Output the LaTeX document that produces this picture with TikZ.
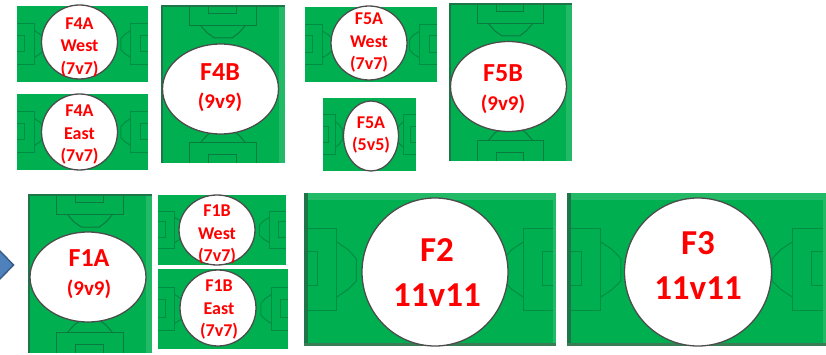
\documentclass[tikz,border=0pt]{standalone}
\usepackage{fontspec}
\setmainfont{Carlito}
\usepackage{tikz}
\usetikzlibrary{positioning,shapes.geometric}
\definecolor{pitchgreen}{HTML}{00AF50}
\definecolor{pitchline}{HTML}{008C42}
\definecolor{pitchdeep}{HTML}{0B7A3F}
\definecolor{pitchdark}{HTML}{1E7548}
\definecolor{pitchlight}{HTML}{22BA66}
\definecolor{pitchbase}{HTML}{3A7D55}
\definecolor{chevronblue}{HTML}{4F81BD}
\definecolor{chevronedge}{HTML}{385D8A}
\tikzset{
  markline/.style={draw=pitchline, line width=1pt},
  ring/.style={ellipse, draw=black!70, line width=1.3pt, fill=white, inner sep=0pt},
  smalltext/.style={text=red, align=center, font=\bfseries\fontsize{18}{22.5}\selectfont, inner sep=0pt},
  midtext/.style={text=red, align=center, font=\bfseries\fontsize{21}{28.5}\selectfont, inner sep=0pt},
  bigtext/.style={text=red, align=center, font=\bfseries\fontsize{35}{45}\selectfont, inner sep=0pt},
}
\newcommand{\headline}[1]{{\fontsize{26}{26}\selectfont #1}}
% pitch markings in unit coordinates, goal ends at x=0 and x=1
\newcommand{\markings}{
  \draw[markline] (0,0.23) -- (0.13,0.23) -- (0.13,0.77) -- (0,0.77);
  \draw[markline] (0,0.385) -- (0.055,0.385) -- (0.055,0.605) -- (0,0.605);
  \draw[markline] (0.13,0.32) -- (0.175,0.37) -- (0.208,0.43) -- (0.208,0.575) -- (0.175,0.63) -- (0.13,0.68);
  \draw[markline] (1,0.23) -- (0.87,0.23) -- (0.87,0.77) -- (1,0.77);
  \draw[markline] (1,0.385) -- (0.945,0.385) -- (0.945,0.605) -- (1,0.605);
  \draw[markline] (0.87,0.32) -- (0.825,0.37) -- (0.792,0.43) -- (0.792,0.575) -- (0.825,0.63) -- (0.87,0.68);
}
% lying pitch: x0 y0 x1 y1
\newcommand{\widefield}[4]{
  \fill[pitchgreen] (#1,#2) rectangle (#3,#4);
  \begin{scope}[shift={(#1,#2)}, x={(#3pt-#1pt,0pt)}, y={(0pt,#2pt-#4pt)}]
    \markings
  \end{scope}
}
% big lying pitch with its edge strips
\newcommand{\bigfield}[4]{
  \fill[pitchgreen] (#1,#2) rectangle (#3,#4);
  \begin{scope}[shift={(#1,#2)}, x={(#3pt-#1pt,0pt)}, y={(0pt,#2pt-#4pt)}]
    \markings
  \end{scope}
  \fill[pitchlight] (#1,#2) rectangle (#3,#2+7);
  \fill[pitchlight] (#3-3,#2) rectangle (#3,#4);
  \fill[pitchdark] (#1,#2) rectangle (#1+4,#4);
  \fill[pitchbase] (#1,#4-3) rectangle (#3,#4);
}
% standing pitch: x0 y0 x1 y1
\newcommand{\tallfield}[4]{
  \fill[pitchgreen] (#1,#2) rectangle (#3,#4);
  \begin{scope}[shift={(#1,#2)}, x={(0pt,#2pt-#4pt)}, y={(#3pt-#1pt,0pt)}]
    \tikzset{markline/.append style={draw=pitchdeep}}
    \markings
  \end{scope}
  \fill[pitchlight] (#3-6,#2) rectangle (#3,#4);
  \fill[pitchdark] (#1,#2) rectangle (#1+2,#4);
  \fill[pitchdark] (#1,#2) rectangle (#3,#2+2);
}
\begin{document}
\begin{tikzpicture}[x=1pt, y=-1pt]
  \useasboundingbox (0,0) rectangle (826,355);

  % Arrow at the left edge
  \fill[chevronblue, draw=chevronedge, line width=1.5pt] (-3,248) -- (13.5,265) -- (-3,282) -- cycle;

  % F4 pitches
  \widefield{17}{6}{148}{82}
  \node[ring, minimum width=76pt, minimum height=74pt] (f4awestring) at (79.5,42) {};
  \node[smalltext] (f4awest) at (79.5,47.5) {F4A\\West\\(7v7)};
  \widefield{17}{94}{148}{170}
  \node[ring, minimum width=76pt, minimum height=76pt] (f4aeastring) at (79.5,132) {};
  \node[smalltext] (f4aeast) at (79.5,135) {F4A\\East\\(7v7)};
  \tallfield{161}{5}{285}{163}
  \node[ring, minimum width=116pt, minimum height=90pt] (f4bring) at (220.5,89) {};
  \node[midtext] (f4b) at (220,87.5) {\headline{F4B}\\(9v9)};

  % F5 pitches
  \widefield{305}{7}{437}{82}
  \node[ring, minimum width=76pt, minimum height=74pt] (f5awestring) at (369,43) {};
  \node[smalltext] (f5awest) at (369,43) {F5A\\West\\(7v7)};
  \widefield{323}{98}{416}{171}
  \node[ring, minimum width=55pt, minimum height=70pt] (f5asmallring) at (371,136) {};
  \node[smalltext] (f5asmall) at (371,135) {F5A\\(5v5)};
  \tallfield{449}{3}{572}{161}
  \node[ring, minimum width=116pt, minimum height=90pt] (f5bring) at (508.5,86.5) {};
  \node[midtext] (f5b) at (503,89) {\headline{F5B}\\(9v9)};

  % F1 pitches
  \tallfield{28}{194}{152}{353}
  \node[ring, minimum width=116pt, minimum height=90pt] (f1aring) at (88,277) {};
  \node[midtext] (f1a) at (89,274) {\headline{F1A}\\(9v9)};
  \widefield{158}{195}{286}{265}
  \node[ring, minimum width=76pt, minimum height=70pt] (f1bwestring) at (217,230) {};
  \node[smalltext] (f1bwest) at (217,235) {F1B\\West\\(7v7)};
  \widefield{158}{269}{288}{349}
  \node[ring, minimum width=76pt, minimum height=76pt] (f1beastring) at (218,308) {};
  \node[smalltext] (f1beast) at (219,310) {F1B\\East\\(7v7)};

  % F2 and F3
  \bigfield{304}{193}{556}{346}
  \node[ring, minimum width=146pt, minimum height=148pt] (ftworing) at (435,272) {};
  \node[bigtext] (ftwo) at (437,273) {F2\\11v11};
  \bigfield{567}{193}{826}{346}
  \node[ring, minimum width=147pt, minimum height=148pt] (fthreering) at (698,272) {};
  \node[bigtext] (fthree) at (698,266) {F3\\11v11};
\end{tikzpicture}
\end{document}
